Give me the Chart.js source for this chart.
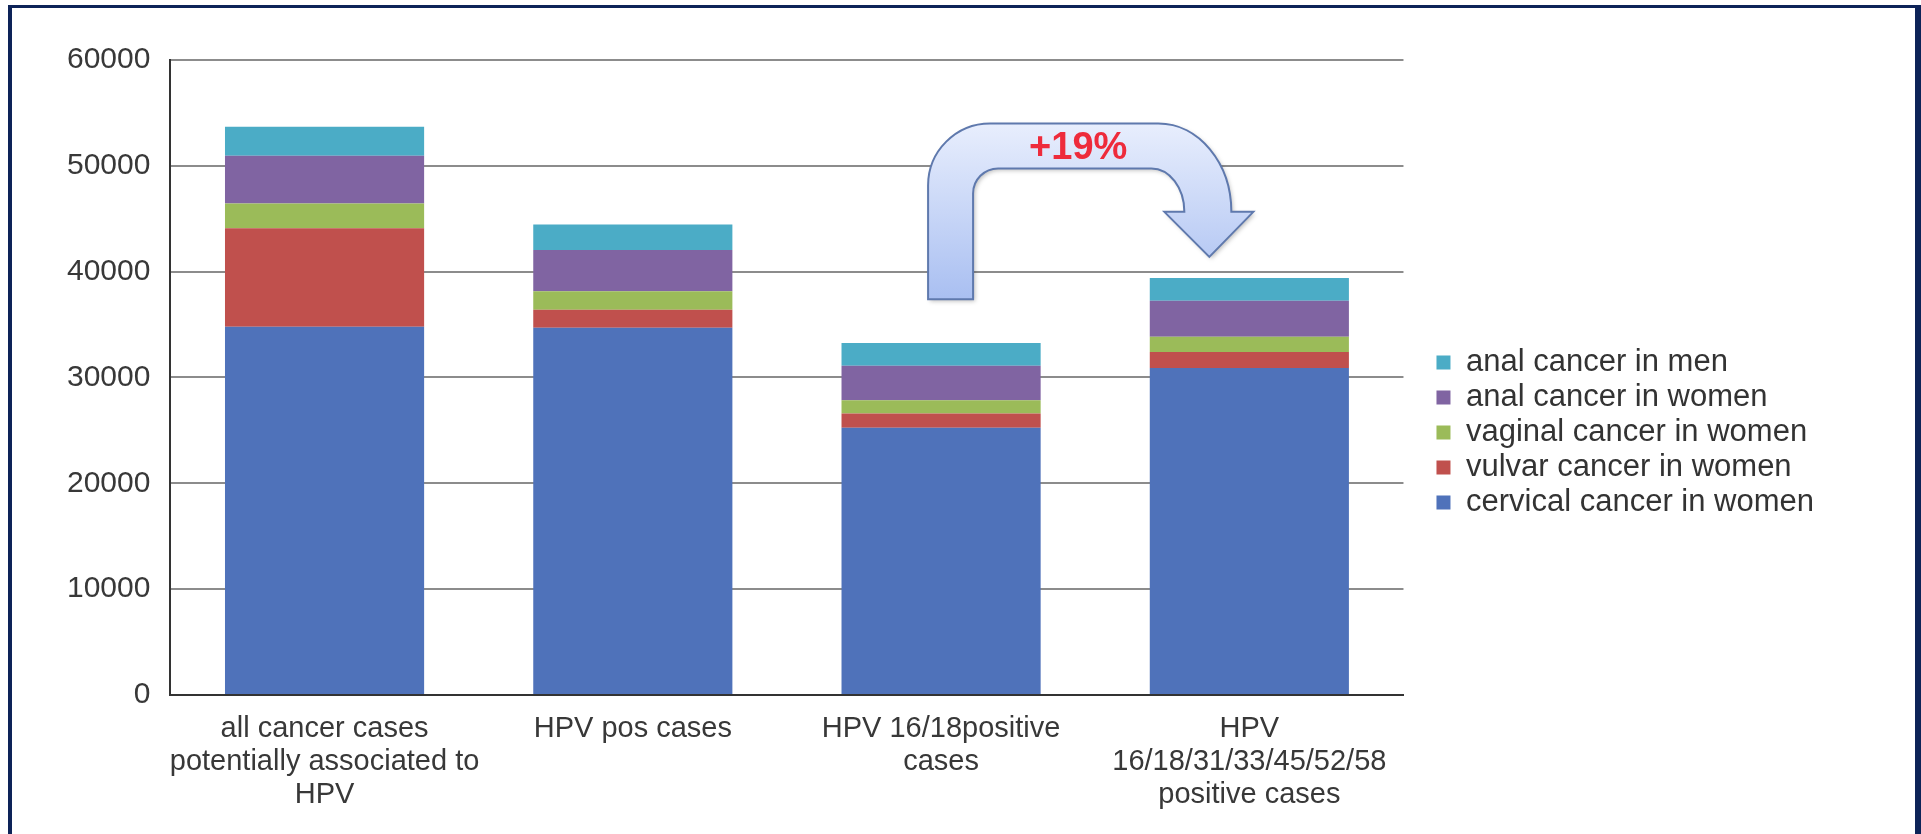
<!DOCTYPE html>
<html>
<head>
<meta charset="utf-8">
<script src="https://cdn.jsdelivr.net/npm/chart.js@4"></script>
<style>
  html, body { margin: 0; padding: 0; background: #fff; overflow: hidden; }
  #wrap { position: relative; width: 1921px; height: 834px; }
  #frame {
    position: absolute; left: 8px; top: 5px; width: 1913px; height: 840px;
    box-sizing: border-box; pointer-events: none;
    border-top: 3px solid #0d2358; border-left: 4px solid #0d2358; border-right: 6px solid #0d2358;
  }
</style>
</head>
<body>
<div id="wrap">
  <canvas id="c" width="1921" height="834"></canvas>
  <div id="frame"></div>
</div>
<script>

const categories = [
    ['all cancer cases', 'potentially associated to', 'HPV'],
    'HPV pos cases',
    ['HPV 16/18positive', 'cases'],
    ['HPV', '16/18/31/33/45/52/58', 'positive cases']
];

const cervical   = [34800, 34700, 25250, 30900];
const vulvar     = [9300, 1700, 1350, 1500];
const vaginal    = [2350, 1750, 1250, 1450];
const analWomen  = [4500, 3900, 3250, 3400];
const analMen    = [2750, 2400, 2150, 2150];

const yTicks = [0, 10000, 20000, 30000, 40000, 50000, 60000];

// arrow annotation between bar 3 and bar 4
const arrowFrom = 2;
const arrowTo = 3;
const arrowLabel = '+19%';

Chart.defaults.font.family = '"Liberation Sans", Arial, sans-serif';
Chart.defaults.color = '#383838';


const arrowPlugin = {
    id: 'arrow',
    afterDatasetsDraw(chart){
        const ctx = chart.ctx;
        const x = chart.scales.x, y = chart.scales.y;
        const c1 = x.getPixelForValue(arrowFrom);
        const c2 = x.getPixelForValue(arrowTo);
        const k = 0.5523;

        const xLo = c1 - 13, xLi = c1 + 32;
        const xRi = c2 - 65, xRo = c2 - 18;
        const yBot = y.getPixelForValue(37400);
        const yTo = y.getPixelForValue(54000);
        const yTi = y.getPixelForValue(49750);
        const yHead = y.getPixelForValue(45650);
        const yTip = y.getPixelForValue(41400);

        const r1 = 62, r2 = 25;
        const rxo = 73, ryo = yHead - yTo;
        const rxi = 33, ryi = yHead - yTi;

        ctx.save();
        ctx.beginPath();
        ctx.moveTo(xLo, yBot);
        ctx.lineTo(xLo, yTo + r1);
        ctx.bezierCurveTo(xLo, yTo + r1 - k*r1, xLo + r1 - k*r1, yTo, xLo + r1, yTo);
        ctx.lineTo(xRo - rxo, yTo);
        ctx.bezierCurveTo(xRo - rxo + k*rxo, yTo, xRo, yHead - k*ryo, xRo, yHead);
        ctx.lineTo(c2 + 4, yHead);
        ctx.lineTo(c2 - 40, yTip);
        ctx.lineTo(c2 - 85, yHead);
        ctx.lineTo(xRi, yHead);
        ctx.bezierCurveTo(xRi, yHead - k*ryi, xRi - rxi + k*rxi, yTi, xRi - rxi, yTi);
        ctx.lineTo(xLi + r2, yTi);
        ctx.bezierCurveTo(xLi + r2 - k*r2, yTi, xLi, yTi + r2 - k*r2, xLi, yTi + r2);
        ctx.lineTo(xLi, yBot);
        ctx.closePath();

        let grad = ctx.createLinearGradient(0, yTo, 0, yBot);
        grad.addColorStop(0, '#e8eefd');
        grad.addColorStop(1, '#a9bff1');
        ctx.shadowColor = 'rgba(0,0,0,0.25)';
        ctx.shadowBlur = 4;
        ctx.shadowOffsetX = 2;
        ctx.shadowOffsetY = 2;
        ctx.fillStyle = grad;
        ctx.fill();
        ctx.shadowColor = 'transparent';
        ctx.strokeStyle = '#5f79ad';
        ctx.lineWidth = 2;
        ctx.stroke();

        ctx.font = 'bold 38px "Liberation Sans", Arial, sans-serif';
        ctx.fillStyle = '#ee2b3b';
        ctx.textAlign = 'center';
        ctx.textBaseline = 'middle';
        ctx.fillText(arrowLabel, (c1 + c2)/2 - 17, y.getPixelForValue(51650));
        ctx.restore();
    }
};

// nudge the legend away from the plot area and a little up
const legendShift = {
    id: 'legendShift',
    afterLayout(chart){
        const l = chart.legend;
        l.left += 29;
        l.right += 29;
        l.top -= 12;
        l.bottom -= 12;
    }
};


function dataset(label, data, color){
    return {
        label: label,
        data: data,
        backgroundColor: color,
        borderWidth: 0,
        categoryPercentage: 1,
        barPercentage: 0.646
    };
}


let config = {
    type: 'bar',
    data: {
        labels: categories,
        datasets: [
            dataset('cervical cancer in women', cervical, '#4f72ba'),
            dataset('vulvar cancer in women', vulvar, '#c0504d'),
            dataset('vaginal cancer in women', vaginal, '#9bbb59'),
            dataset('anal cancer in women', analWomen, '#8064a2'),
            dataset('anal cancer in men', analMen, '#4bacc6')
        ]
    },
    options: {
        responsive: false,
        animation: false,
        layout: {
            padding: {left: 47, right: 126, top: 60, bottom: 5}
        },
        plugins: {
            tooltip: {enabled: false},
            legend: {
                position: 'right',
                reverse: true,
                labels: {
                    boxWidth: 14,
                    boxHeight: 14,
                    padding: 4,
                    color: '#333',
                    font: {size: 31, lineHeight: 1}
                }
            }
        },
        scales: {
            x: {
                stacked: true,
                grid: {display: false, drawTicks: false},
                border: {color: '#333', width: 2},
                ticks: {
                    maxRotation: 0,
                    minRotation: 0,
                    autoSkip: false,
                    padding: 17,
                    color: '#383838',
                    font: {size: 29, lineHeight: 1.15}
                }
            },
            y: {
                stacked: true,
                min: 0,
                max: 60000,
                afterBuildTicks(scale){
                    scale.ticks = yTicks.map(v => ({value: v}));
                },
                grid: {color: '#8c8c8c', lineWidth: 2, drawTicks: false},
                border: {color: '#333', width: 2},
                ticks: {
                    padding: 20,
                    color: '#383838',
                    font: {size: 30},
                    callback: v => String(v)
                }
            }
        }
    },
    plugins: [arrowPlugin, legendShift]
};

new Chart(document.getElementById('c'), config);

</script>
</body>
</html>
